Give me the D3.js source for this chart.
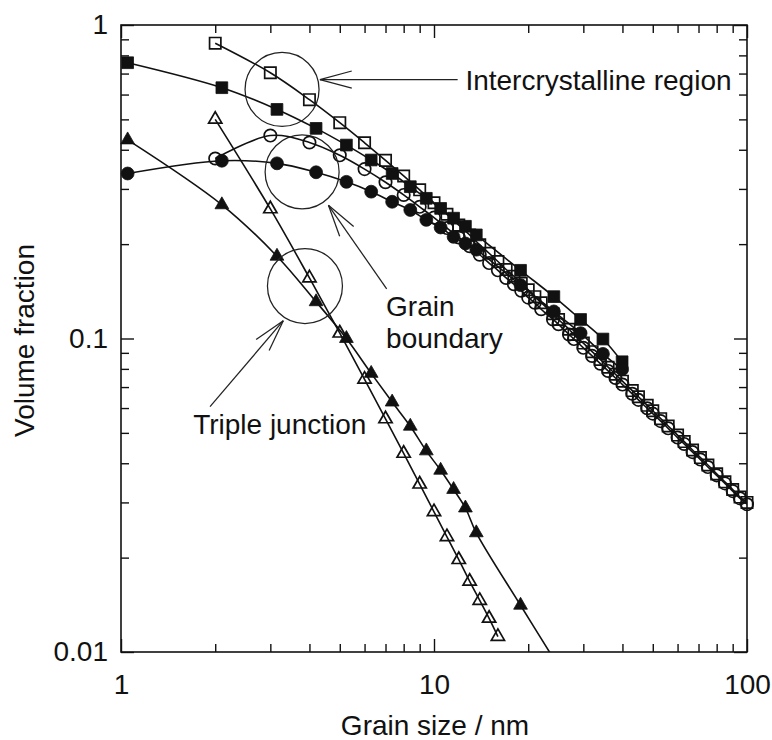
<!DOCTYPE html>
<html>
<head>
<meta charset="utf-8">
<script src="https://cdn.jsdelivr.net/npm/d3@7"></script>
<style>
  body { margin: 0; background: #fff; }
  svg { display: block; }
  text { font-family: "Liberation Sans", Arial, Helvetica, sans-serif; fill: #111; }
</style>
</head>
<body>
<svg id="chart" width="772" height="740"></svg>
<script>
// ---- open symbols: grain sizes (nm) and volume fractions ----
const openSize = [2, 3, 4, 5, 6, 7, 8, 9, 10, 11, 12, 13, 14, 15, 16, 17, 18, 19, 20,
  21, 22, 24, 25, 27, 28, 30, 32, 34, 36, 38, 40, 43, 45, 48, 50, 53, 56, 60, 63, 67,
  71, 75, 80, 85, 90, 95, 100];
const openIntercrystalline = [0.875, 0.704, 0.578, 0.488, 0.421, 0.370, 0.330, 0.298,
  0.271, 0.249, 0.230, 0.214, 0.199, 0.187, 0.176, 0.166, 0.158, 0.150, 0.143,
  0.136, 0.130, 0.120, 0.115, 0.107, 0.103, 0.0967, 0.0908, 0.0857, 0.0810, 0.0769,
  0.0731, 0.0682, 0.0652, 0.0612, 0.0588, 0.0555, 0.0526, 0.0492, 0.0469, 0.0441,
  0.0417, 0.0395, 0.0370, 0.0349, 0.0330, 0.0312, 0.0300];
const openGrainBoundary = [0.375, 0.444, 0.422, 0.384, 0.347, 0.315, 0.287, 0.263,
  0.243, 0.225, 0.210, 0.197, 0.185, 0.174, 0.165, 0.156, 0.149, 0.142, 0.135,
  0.130, 0.124, 0.115, 0.111, 0.103, 0.0996, 0.0934, 0.0880, 0.0831, 0.0788, 0.0748,
  0.0713, 0.0666, 0.0637, 0.0599, 0.0576, 0.0545, 0.0517, 0.0483, 0.0461, 0.0434,
  0.0411, 0.0389, 0.0366, 0.0345, 0.0326, 0.0309, 0.0296];
const openTripleSize = [2, 3, 4, 5, 6, 7, 8, 9, 10, 11, 12, 13, 14, 15, 16];
const openTripleJunction = [0.500, 0.259, 0.156, 0.104, 0.0741, 0.0554, 0.0430, 0.0343,
  0.0280, 0.0233, 0.0197, 0.0168, 0.0146, 0.0128, 0.0112];

// ---- filled symbols: grain sizes (nm) and volume fractions ----
const filledSize = [1.05, 2.1, 3.15, 4.2, 5.25, 6.3, 7.35, 8.4, 9.45, 10.5, 11.55, 12.6,
  13.65, 18.9, 24.15, 29.4, 34.65, 39.9];
const filledIntercrystalline = [0.758, 0.631, 0.538, 0.468, 0.414, 0.371, 0.336, 0.305,
  0.280, 0.260, 0.242, 0.228, 0.214, 0.165, 0.136, 0.115, 0.0996, 0.0843];
const filledGrainBoundary = [0.336, 0.369, 0.362, 0.339, 0.316, 0.294, 0.273, 0.257,
  0.239, 0.226, 0.211, 0.201, 0.192, 0.148, 0.122, 0.104, 0.0893, 0.0797];
const filledTripleSize = [1.05, 2.1, 3.15, 4.2, 5.25, 6.3, 7.35, 8.4, 9.45, 10.5, 11.55,
  12.6, 13.65, 18.9, 24.15];
const filledTripleJunction = [0.430, 0.267, 0.183, 0.131, 0.100, 0.0774, 0.0627, 0.0525,
  0.0438, 0.0380, 0.0330, 0.0288, 0.0240, 0.0141, 0.0095];

// ---- axes ----
const xTickValues = [1, 10, 100];
const xTickLabels = ["1", "10", "100"];
const yTickValues = [0.01, 0.1, 1];
const yTickLabels = ["0.01", "0.1", "1"];
const xTitle = "Grain size / nm";
const yTitle = "Volume fraction";

const W = 772, H = 740;
const FONT = "28px";
const margin = { top: 25, right: 25, bottom: 88, left: 121 };
const iw = W - margin.left - margin.right;
const ih = H - margin.top - margin.bottom;

const svg = d3.select("#chart");
const defs = svg.append("defs");
const g = svg.append("g").attr("transform", `translate(${margin.left},${margin.top})`);

const x = d3.scaleLog().domain([1, 100]).range([0, iw]);
const y = d3.scaleLog().domain([0.01, 1]).range([ih, 0]);

const minorX = [2, 3, 4, 5, 6, 7, 8, 9, 20, 30, 40, 50, 60, 70, 80, 90];
const minorY = [0.02, 0.03, 0.04, 0.05, 0.06, 0.07, 0.08, 0.09,
  0.2, 0.3, 0.4, 0.5, 0.6, 0.7, 0.8, 0.9];
const MAJ = 13, MIN = 8;

function styleAxis(sel) {
  sel.select(".domain").remove();
  sel.selectAll(".tick line").attr("stroke", "#111").attr("stroke-width", 1.4);
  sel.selectAll(".tick text").style("font-size", FONT).attr("fill", "#111");
}

// bottom
g.append("g").attr("transform", `translate(0,${ih})`)
  .call(d3.axisBottom(x).tickValues(xTickValues).tickSize(-MAJ).tickPadding(22)
    .tickFormat((d, i) => xTickLabels[i]))
  .call(styleAxis);
g.append("g").attr("transform", `translate(0,${ih})`)
  .call(d3.axisBottom(x).tickValues(minorX).tickSize(-MIN).tickFormat(""))
  .call(styleAxis);
// top
g.append("g")
  .call(d3.axisTop(x).tickValues(xTickValues).tickSize(-MAJ).tickFormat(""))
  .call(styleAxis);
g.append("g")
  .call(d3.axisTop(x).tickValues(minorX).tickSize(-MIN).tickFormat(""))
  .call(styleAxis);
// left
g.append("g")
  .call(d3.axisLeft(y).tickValues(yTickValues).tickSize(-MAJ).tickPadding(13)
    .tickFormat((d, i) => yTickLabels[i]))
  .call(styleAxis);
g.append("g")
  .call(d3.axisLeft(y).tickValues(minorY).tickSize(-MIN).tickFormat(""))
  .call(styleAxis);
// right
g.append("g").attr("transform", `translate(${iw},0)`)
  .call(d3.axisRight(y).tickValues(yTickValues).tickSize(-MAJ).tickFormat(""))
  .call(styleAxis);
g.append("g").attr("transform", `translate(${iw},0)`)
  .call(d3.axisRight(y).tickValues(minorY).tickSize(-MIN).tickFormat(""))
  .call(styleAxis);

// frame
g.append("rect").attr("width", iw).attr("height", ih)
  .attr("fill", "none").attr("stroke", "#111").attr("stroke-width", 1.6);

// axis titles
g.append("text").attr("x", iw / 2 + 1).attr("y", ih + 83)
  .attr("text-anchor", "middle").style("font-size", FONT).text(xTitle);
g.append("text")
  .attr("transform", `translate(${34 - margin.left},${ih / 2 + 2}) rotate(-90)`)
  .attr("text-anchor", "middle").style("font-size", FONT).text(yTitle);

// clip regions: markers may straddle the frame, lines stay inside
defs.append("clipPath").attr("id", "plotClip")
  .append("rect").attr("x", -8).attr("y", -8).attr("width", iw + 16).attr("height", ih + 8);
defs.append("clipPath").attr("id", "lineClip")
  .append("rect").attr("x", 0).attr("y", 0).attr("width", iw).attr("height", ih);

const series = [
  { xs: openSize, ys: openIntercrystalline, shape: d3.symbolSquare, size: 128, filled: false },
  { xs: openSize, ys: openGrainBoundary, shape: d3.symbolCircle, size: 120, filled: false },
  { xs: openTripleSize, ys: openTripleJunction, shape: d3.symbolTriangle, size: 76, filled: false },
  { xs: filledSize, ys: filledIntercrystalline, shape: d3.symbolSquare, size: 138, filled: true },
  { xs: filledSize, ys: filledGrainBoundary, shape: d3.symbolCircle, size: 130, filled: true },
  { xs: filledTripleSize, ys: filledTripleJunction, shape: d3.symbolTriangle, size: 82, filled: true }
];

const line = d3.line().x(d => x(d[0])).y(d => y(d[1])).curve(d3.curveCatmullRom.alpha(0.5));

const lines = g.append("g").attr("clip-path", "url(#lineClip)");
series.forEach(s => {
  const pts = s.xs.map((v, i) => [v, s.ys[i]]);
  lines.append("path").datum(pts).attr("d", line)
    .attr("fill", "none").attr("stroke", "#111").attr("stroke-width", 1.6);
});

const plot = g.append("g").attr("clip-path", "url(#plotClip)");
series.forEach(s => {
  const pts = s.xs.map((v, i) => [v, s.ys[i]]).filter(p => p[1] >= 0.01);
  plot.append("g").selectAll("path").data(pts).join("path")
    .attr("transform", d => `translate(${x(d[0])},${y(d[1])})`)
    .attr("d", d3.symbol().type(s.shape).size(s.size))
    .attr("fill", s.filled ? "#111" : "none")
    .attr("stroke", "#111").attr("stroke-width", s.filled ? 0.8 : 1.7);
});

// ---- annotations ----
const ann = g.append("g").attr("stroke", "#222").attr("fill", "none").attr("stroke-width", 1.25);

function ring(cx, cy, r) {
  ann.append("circle").attr("cx", x(cx)).attr("cy", y(cy)).attr("r", r);
}
ring(3.27, 0.623, 37);
ring(3.79, 0.340, 37);
ring(3.87, 0.147, 37.5);

function arrow(tip, tail) {
  const tx = x(tip[0]), ty = y(tip[1]);
  const ex = x(tail[0]), ey = y(tail[1]);
  ann.append("line").attr("x1", tx).attr("y1", ty).attr("x2", ex).attr("y2", ey);
  const ang = Math.atan2(ey - ty, ex - tx);
  const L = 33, spread = 15 * Math.PI / 180;
  [-spread, spread].forEach(a => {
    ann.append("line").attr("x1", tx).attr("y1", ty)
      .attr("x2", tx + L * Math.cos(ang + a)).attr("y2", ty + L * Math.sin(ang + a));
  });
}
arrow([4.32, 0.670], [11.9, 0.670]);
arrow([4.60, 0.266], [7.06, 0.144]);
arrow([3.30, 0.114], [1.925, 0.0606]);

const labels = g.append("g").style("font-size", FONT);
labels.append("text").attr("x", x(12.6)).attr("y", y(0.670) + 10).text("Intercrystalline region");
labels.append("text").attr("x", x(7.03)).attr("y", y(0.118)).text("Grain");
labels.append("text").attr("x", x(7.03)).attr("y", y(0.118) + 32).text("boundary");
labels.append("text").attr("x", x(1.70)).attr("y", y(0.0495)).text("Triple junction");
</script>
</body>
</html>
